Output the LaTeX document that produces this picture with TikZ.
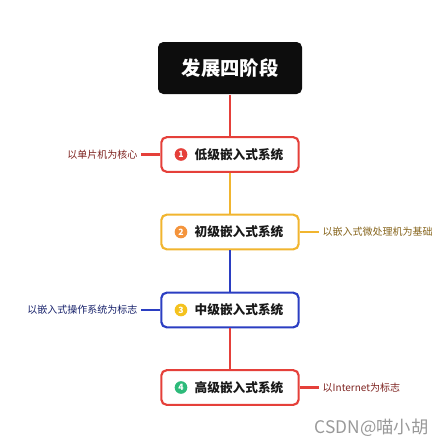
\documentclass[tikz,border=0pt]{standalone}
\usepackage{fontspec}
\setmainfont{Noto Sans CJK SC}
\usepackage{tikz}
\definecolor{stagered}{HTML}{E5403A}
\definecolor{stagegold}{HTML}{F1B52F}
\definecolor{stageblue}{HTML}{2B3EC2}
\definecolor{numorange}{HTML}{F4943C}
\definecolor{numyellow}{HTML}{F4C21E}
\definecolor{numgreen}{HTML}{2DBA7A}
\begin{document}
\begin{tikzpicture}[x=0.75pt,y=-0.75pt,line width=1.6pt]
\useasboundingbox (0,0) rectangle (448,447);
\tikzstyle{stage}=[rectangle,draw,fill=white,rounded corners=4pt,minimum width=103pt,minimum height=26pt]
\tikzstyle{num}=[circle,inner sep=0pt,minimum size=9.5pt,text=white,font=\fontsize{6.5}{6.5}\selectfont\bfseries]
\tikzstyle{title}=[font=\fontsize{9.5}{11}\selectfont,text=black!90]
\tikzstyle{note}=[inner sep=2pt,font=\fontsize{7.5}{8}\selectfont]
\node[rectangle,fill=black!95,rounded corners=4pt,minimum width=108pt,minimum height=39pt,text=white,font=\fontsize{14.5}{16}\selectfont\bfseries] (root) at (230,68) {发展四阶段};
\node[stage,draw=stagered] (low) at (230,154.5) {};
\node[stage,draw=stagegold] (primary) at (230,232) {};
\node[stage,draw=stageblue] (middle) at (230,310) {};
\node[stage,draw=stagered] (high) at (230,387.5) {};
\node[num,fill=stagered] (n1) at (181,154.5) {1};
\node[num,fill=numorange] (n2) at (181,232) {2};
\node[num,fill=numyellow] (n3) at (181,310) {3};
\node[num,fill=numgreen] (n4) at (181,387.5) {4};
\node[title] (t1) at (239,154.5) {\textbf{低级嵌入式系统}};
\node[title] (t2) at (239,232) {\textbf{初级嵌入式系统}};
\node[title] (t3) at (239,310) {\textbf{中级嵌入式系统}};
\node[title] (t4) at (239,387.5) {\textbf{高级嵌入式系统}};
\draw[stagered] (root) -- (low);
\draw[stagegold] (low) -- (primary);
\draw[stageblue] (primary) -- (middle);
\draw[stagered] (middle) -- (high);
% notes beside the stages
\node[note,anchor=east,text=stagered!55!black] (core) at (141,154.5) {以单片机为核心};
\node[note,anchor=west,text=stagegold!55!black] (cpu) at (319,232) {以嵌入式微处理机为基础};
\node[note,anchor=west,text=stagered!55!black] (net) at (319,387.5) {以Internet为标志};
\node[note,anchor=east,text=stageblue!55!black] (os) at (141,310) {以嵌入式操作系统为标志};
\draw[stagered] (low) -- (core);
\draw[stagegold] (primary) -- (cpu);
\draw[stageblue] (middle) -- (os);
\draw[stagered] (high) -- (net);
\node[anchor=east,text=black!40,font=\fontsize{13}{14}\selectfont] (mark) at (434,428) {CSDN@喵小胡};
\end{tikzpicture}
\end{document}
